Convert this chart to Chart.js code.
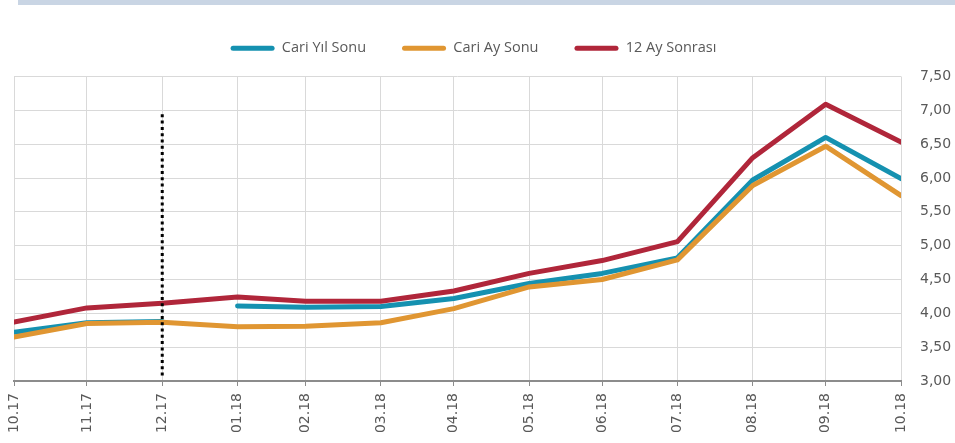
<!DOCTYPE html>
<html>
<head>
<meta charset="utf-8">
<script src="https://cdn.jsdelivr.net/npm/chart.js@4.4.0/dist/chart.umd.min.js"></script>
<style>
  html, body { margin: 0; padding: 0; background: #fff; }
  #wrap { position: relative; width: 955px; height: 443px; }
  #ustCizgi { position: absolute; left: 18px; top: 0; width: 937px; height: 5px; background: #c9d5e4; }
  canvas { position: absolute; left: 0; top: 0; }
</style>
</head>
<body>
<div id="wrap">
  <div id="ustCizgi"></div>
  <canvas id="beklentiChart" width="955" height="443"></canvas>
</div>
<script>
// --- VERİ ---
const aylar = ['10.17', '11.17', '12.17', '01.18', '02.18', '03.18', '04.18',
               '05.18', '06.18', '07.18', '08.18', '09.18', '10.18'];
const cariYilSonu    = [3.72, 3.86, 3.88, 4.11, 4.09, 4.10, 4.22, 4.44, 4.59, 4.82, 5.97, 6.60, 5.99];
const cariAySonu     = [3.65, 3.85, 3.87, 3.80, 3.81, 3.86, 4.07, 4.39, 4.50, 4.79, 5.89, 6.47, 5.74];
const onikiAySonrasi = [3.87, 4.08, 4.15, 4.24, 4.18, 4.18, 4.33, 4.59, 4.78, 5.06, 6.30, 7.09, 6.53];
const yEkseni = [3.00, 3.50, 4.00, 4.50, 5.00, 5.50, 6.00, 6.50, 7.00, 7.50];

const ayrimAyi = '12.17';          // noktalı dikey çizgi
const ayrimAraligi = [3.08, 6.97];
const yilSonuKirilma = 2;          // 12.17 -> 01.18 arası çizilmez (yıl değişimi)

// ay sonu tarihlerine göre gün (x ekseni takvim aralığını korusun)
function aySonuGunu(etiket) {
    const [ay, yil] = etiket.split('.').map(Number);
    return Date.UTC(2000 + yil, ay, 0) / 86400000;
}
const ilkGun = aySonuGunu(aylar[0]);
const xGunleri = aylar.map(a => aySonuGunu(a) - ilkGun);

function noktalar(seri) {
    return seri.map((v, i) => ({ x: xGunleri[i], y: v }));
}

const yaziRengi = '#595959';
const eksenFont = { family: 'DejaVu Sans', size: 14 };

function seri(etiket, veri, renk, sira) {
    return {
        label: etiket,
        data: noktalar(veri),
        borderColor: renk,
        backgroundColor: renk,
        borderWidth: 5,
        borderJoinStyle: 'round',
        borderCapStyle: 'round',
        pointRadius: 0,
        tension: 0,
        order: sira
    };
}

const yilSonuSeri = seri('Cari Yıl Sonu', cariYilSonu, '#1591b0', 3);
yilSonuSeri.segment = {
    borderColor: ctx => ctx.p0DataIndex === yilSonuKirilma ? 'rgba(0,0,0,0)' : undefined
};

const ayrimX = xGunleri[aylar.indexOf(ayrimAyi)];

// lejantı biraz sola al (y ekseni etiketleri sağda yer kaplıyor)
const lejantKaydir = {
    id: 'lejantKaydir',
    afterLayout(chart) {
        chart.legend.left -= 11;
        chart.legend.right -= 11;
    }
};

new Chart(document.getElementById('beklentiChart'), {
    type: 'line',
    data: {
        datasets: [
            yilSonuSeri,
            seri('Cari Ay Sonu', cariAySonu, '#e09632', 2),
            seri('12 Ay Sonrası', onikiAySonrasi, '#b0263a', 1),
            {
                label: 'ayrim',
                data: ayrimAraligi.map(y => ({ x: ayrimX, y: y })),
                borderColor: '#000',
                borderWidth: 3,
                borderDash: [3, 3.3],
                borderCapStyle: 'butt',
                pointRadius: 0,
                order: 0
            }
        ]
    },
    plugins: [lejantKaydir],
    options: {
        responsive: false,
        animation: false,
        layout: { padding: { top: 5, left: 14, right: 0, bottom: 0 } },
        plugins: {
            tooltip: { enabled: false },
            legend: {
                position: 'top',
                labels: {
                    boxWidth: 44,
                    boxHeight: 5,
                    useBorderRadius: true,
                    borderRadius: 2.5,
                    padding: 36,
                    color: yaziRengi,
                    font: { family: 'Open Sans', size: 14.5 },
                    sort: (a, b) => a.datasetIndex - b.datasetIndex,
                    generateLabels: chart => Chart.defaults.plugins.legend.labels.generateLabels(chart)
                        .filter(it => it.datasetIndex < 3)
                        .map(it => Object.assign(it, { fillStyle: it.strokeStyle, lineWidth: 0 }))
                }
            }
        },
        scales: {
            x: {
                type: 'linear',
                min: 0,
                max: xGunleri[xGunleri.length - 1],
                afterBuildTicks: s => { s.ticks = xGunleri.map(v => ({ value: v })); },
                afterFit: s => { s.height = 62; },
                ticks: {
                    callback: (v, i) => aylar[i],
                    autoSkip: false,
                    minRotation: 90,
                    maxRotation: 90,
                    padding: 7,
                    color: yaziRengi,
                    font: eksenFont
                },
                grid: { color: '#d9d9d9', lineWidth: 1, tickLength: 5, tickColor: '#8c8c8c' },
                border: { color: '#8c8c8c', width: 2 }
            },
            // lejant ile çizim alanı arasındaki boşluk
            ust: {
                type: 'linear',
                position: 'top',
                afterFit: s => { s.height = 11; },
                ticks: { display: false },
                grid: { display: false },
                border: { display: false }
            },
            y: {
                position: 'right',
                min: 3,
                max: 7.5,
                afterBuildTicks: s => { s.ticks = yEkseni.map(v => ({ value: v })); },
                afterFit: s => { s.width = 54; },
                ticks: {
                    callback: v => v.toFixed(2).replace('.', ','),
                    padding: 19,
                    color: yaziRengi,
                    font: eksenFont
                },
                grid: { color: '#d9d9d9', lineWidth: 1, drawTicks: false },
                border: { display: false }
            }
        }
    }
});
</script>
</body>
</html>
